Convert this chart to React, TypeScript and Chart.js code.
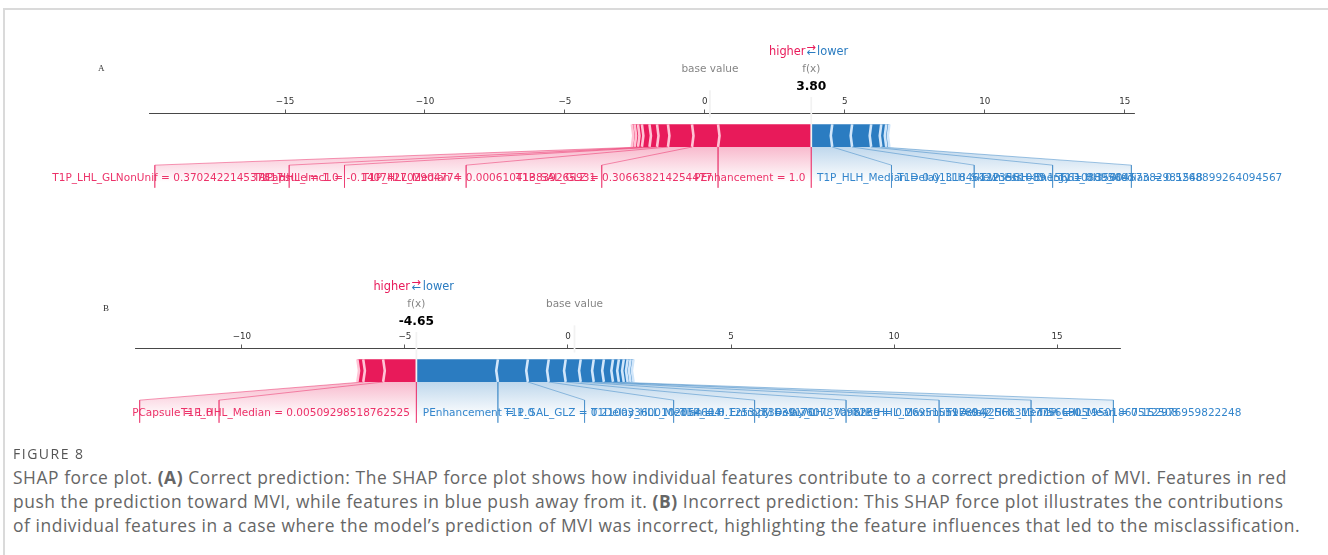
import React, { useEffect, useRef } from 'react';
import { Chart, registerables } from 'chart.js';

Chart.register(...registerables);

// ---------------- Panel A (correct prediction) ----------------
const baseValueA = 0.18;
const redEffectsA = [3.33, 0.93, 0.86, 0.39, 0.27, 0.27, 0.14, 0.12, 0.1];
const redLabelsA = [
  'PEnhancement = 1.0',
  'T1P_SAL_GLZ = 0.306638214254477',
  'T1P_HLL_Median = 0.000610413839265931',
  'T1P_HHL_Imc1 = -0.140742702904774',
  'PCapsule = 1.0',
  'T1P_LHL_GLNonUnif = 0.370242214537817',
];
const blueEffectsA = [0.75, 0.71, 0.68, 0.36, 0.18, 0.11];
const blueLabelsA = [
  'T1P_HLH_Median = 0.01318461223561089',
  'T1Delay_LLH_Skewness = 0.1566108895607',
  'T1P_HHH_Energy = 0.3560457382981548',
  'T1D_HHL_Median = 0.5268899264094567',
];
const axisRangeA = [-19.86, 15.33];
const tickValuesA = [-15, -10, -5, 0, 5, 10, 15];

// ---------------- Panel B (incorrect prediction) ----------------
const baseValueB = 0.2;
const redEffectsB = [1.02, 0.61, 0.18];
const redLabelsB = ['T1P_HHL_Median = 0.00509298518762525', 'PCapsule = 1.0'];
const blueEffectsB = [2.5, 0.92, 0.64, 0.52, 0.46, 0.4, 0.31, 0.28, 0.18, 0.15, 0.12, 0.09, 0.09];
const blueLabelsB = [
  'PEnhancement = 1.0',
  'T1P_SAL_GLZ = 0.210033600102054604',
  'T1Delay_HLL_Median = 0.1253283639170',
  'T1P_LLH_Entropy = -0.760787098259',
  'T1Delay_LHL_Variance = 0.2695155978942',
  'T1P_HHL_Maximum = 0.4256831377566905',
  'T1Delay_HHL_Median = 0.19501867512508',
  'T1P_LHL_Mean = 0.152976959822248',
];
const axisRangeB = [-13.28, 16.93];
const tickValuesB = [-10, -5, 0, 5, 10, 15];

// ---------------- styles ----------------
const RED_RGB = [232, 26, 90];
const BLUE_RGB = [43, 124, 193];
const RED = `rgb(${RED_RGB.join(',')})`;
const BLUE = `rgb(${BLUE_RGB.join(',')})`;
const RED_TEXT = 'rgb(236, 50, 105)';
const BLUE_TEXT = 'rgb(52, 134, 204)';
const RED_LIGHT = '#FFC3D5';
const BLUE_LIGHT = '#D1E6FA';
const FONT = '"DejaVu Sans", sans-serif';
const LABEL_PX = 10.5;
const BOX_PAD = 0.3 * LABEL_PX;
const PAGE_W = 1328;
const AXIS_PX = 985;
const X_SCALE_H = 30;
const Y_MIN = -0.25;
const Y_MAX = 0.15;
const PX_PER_Y = 226.7;
const BAR_H = 0.1;

const rgba = (c: number[], a: number) => `rgba(${c[0]},${c[1]},${c[2]},${a})`;
const sum = (a: number[]) => a.reduce((s, v) => s + v, 0);

type Pt = { x: number; y: number };
type LabelText = { x: number; text: string; align: CanvasTextAlign; color: string };

function layoutLabels(
  type: 'positive' | 'negative',
  cum: number[],
  labels: string[],
  out: number,
  offset: number,
  totalEffect: number,
  unitsPerPx: number,
  measure: (s: string) => number,
) {
  const sign = type === 'positive' ? 1 : -1;
  const color = type === 'positive' ? RED_TEXT : BLUE_TEXT;
  let startText = out;
  let preVal = out;
  let boxEnd = out;
  const texts: LabelText[] = [];
  const lines: Pt[][] = [];
  if (type === 'positive') lines.push([{ x: out, y: 0 }, { x: out, y: -0.18 }]);
  for (let i = 0; i < cum.length && i < labels.length; i++) {
    const val = cum[i];
    if (Math.abs(val - preVal) / Math.abs(totalEffect) < 0.05) break;
    const anchor = startText - sign * offset;
    const w = (measure(labels[i]) + BOX_PAD) * unitsPerPx;
    const boxEndRaw = type === 'positive' ? anchor - w : anchor + w;
    texts.push({ x: anchor, text: labels[i], align: type === 'positive' ? 'right' : 'left', color });
    if (sign * boxEndRaw > sign * val) {
      lines.push([{ x: val, y: 0 }, { x: val, y: -0.18 }]);
      startText = val;
      boxEnd = val;
    } else {
      boxEnd = boxEndRaw - sign * offset;
      lines.push([{ x: val, y: 0 }, { x: boxEnd, y: -0.08 }, { x: boxEnd, y: -0.18 }]);
      startText = boxEnd;
    }
    preVal = val;
  }
  const shade: Pt[] = [
    { x: out, y: 0 },
    { x: preVal, y: 0 },
    { x: boxEnd, y: -0.08 },
    { x: boxEnd, y: -0.2 },
    { x: out, y: -0.2 },
  ];
  return { texts, lines, shade, boxEnd };
}

function barPolygons(out: number, cum: number[], type: 'positive' | 'negative', ind: number) {
  const rects: Pt[][] = [];
  const seps: Pt[][] = [];
  let pre = out;
  const h = BAR_H;
  cum.forEach((c, i) => {
    let left: number, right: number, si: number, sp: number;
    if (type === 'positive') {
      left = c; right = pre; pre = c; si = Math.abs(ind); sp = left;
    } else {
      left = pre; right = c; pre = c; si = -Math.abs(ind); sp = right;
    }
    let p: number[][];
    if (i === 0) {
      p = type === 'positive'
        ? [[left, 0], [right, 0], [right, h], [left, h], [left + si, h / 2]]
        : [[right, 0], [left, 0], [left, h], [right, h], [right + si, h / 2]];
    } else {
      p = [[left, 0], [right, 0], [right + si * 0.9, h / 2], [right, h], [left, h], [left + si * 0.9, h / 2]];
    }
    rects.push(p.map(([x, y]) => ({ x, y })));
    seps.push([{ x: sp, y: 0 }, { x: sp + si, y: h / 2 }, { x: sp, y: h }]);
  });
  return { rects, seps };
}

function buildPanel(base: number, redE: number[], redL: string[], blueE: number[], blueL: string[], measure: (s: string) => number) {
  const out = base + sum(redE) - sum(blueE);
  const posCum: number[] = [];
  let v = out;
  redE.forEach((e) => { v -= e; posCum.push(v); });
  const negCum: number[] = [];
  v = out;
  blueE.forEach((e) => { v += e; negCum.push(v); });
  const totalPos = Math.max(...posCum) - Math.min(...posCum);
  const totalNeg = Math.max(...negCum) - Math.min(...negCum);
  const offset = (totalNeg + totalPos) * 0.04;
  const totalEffect = totalNeg + totalPos;
  const padding = Math.max(totalPos, totalNeg) * 0.2;
  let minX = Math.min(Math.min(...posCum), base) - padding;
  let maxX = Math.max(Math.max(...negCum), base) + padding;
  const sepW = (maxX - minX) / 200;
  const neg = layoutLabels('negative', negCum, blueL, out, offset, totalEffect, (maxX - minX) / AXIS_PX, measure);
  if (neg.boxEnd > maxX) maxX = neg.boxEnd;
  if (neg.boxEnd < minX) minX = neg.boxEnd;
  const pos = layoutLabels('positive', posCum, redL, out, offset, totalEffect, (maxX - minX) / AXIS_PX, measure);
  const redBars = barPolygons(out, posCum, 'positive', sepW);
  const blueBars = barPolygons(out, negCum, 'negative', sepW);
  return { base, out, offset, neg, pos, redBars, blueBars };
}

type Panel = ReturnType<typeof buildPanel>;

function gradientFill(c: number[]) {
  return (ctx: any) => {
    const chart = ctx.chart;
    const { chartArea, scales } = chart;
    if (!chartArea || !scales.y) return rgba(c, 0.3);
    const y0 = scales.y.getPixelForValue(0);
    const y1 = scales.y.getPixelForValue(-0.155);
    const g = chart.ctx.createLinearGradient(0, y0, 0, y1);
    g.addColorStop(0, rgba(c, 0.3));
    g.addColorStop(1, 'rgba(255,255,255,0.3)');
    return g;
  };
}

function polyDs(pts: Pt[], fillColor: any, order: number) {
  return {
    type: 'line' as const,
    data: pts,
    fill: 'shape',
    backgroundColor: fillColor,
    borderColor: 'rgba(0,0,0,0)',
    borderWidth: 0,
    pointRadius: 0,
    order,
  };
}

function lineDs(pts: Pt[], color: string, width: number, order: number) {
  return {
    type: 'line' as const,
    data: pts,
    fill: false,
    borderColor: color,
    borderWidth: width,
    pointRadius: 0,
    borderJoinStyle: 'miter' as const,
    clip: false as const,
    order,
  };
}

function buildDatasets(P: Panel) {
  const ds: any[] = [];
  ds.push(polyDs(P.neg.shade, gradientFill(BLUE_RGB), 10));
  ds.push(polyDs(P.pos.shade, gradientFill(RED_RGB), 10));
  P.redBars.rects.forEach((r) => ds.push(polyDs(r, RED, 8)));
  P.blueBars.rects.forEach((r) => ds.push(polyDs(r, BLUE, 8)));
  P.redBars.seps.forEach((s) => ds.push(lineDs(s, RED_LIGHT, 2.6, 6)));
  P.blueBars.seps.forEach((s) => ds.push(lineDs(s, BLUE_LIGHT, 2.6, 6)));
  P.neg.lines.forEach((l) => ds.push(lineDs(l, rgba(BLUE_RGB, 0.5), 0.9, 4)));
  P.pos.lines.forEach((l) => ds.push(lineDs(l, rgba(RED_RGB, 0.5), 0.9, 4)));
  ds.push(lineDs([{ x: P.base, y: 0.13 }, { x: P.base, y: 0.25 }], '#F2F2F2', 1.75, 3));
  ds.push(lineDs([{ x: P.out, y: 0 }, { x: P.out, y: 0.24 }], '#F2F2F2', 1.75, 3));
  return ds;
}

function boxedText(ctx: CanvasRenderingContext2D, text: string, x: number, y: number, size: number, weight: string, color: string) {
  ctx.font = `${weight} ${size}px ${FONT}`;
  const w = ctx.measureText(text).width;
  const pad = 0.3 * size;
  ctx.fillStyle = '#ffffff';
  ctx.fillRect(x - w / 2 - pad, y - 0.93 * size - pad, w + 2 * pad, 1.17 * size + 2 * pad);
  ctx.fillStyle = color;
  ctx.textAlign = 'center';
  ctx.fillText(text, x, y);
}

function overlayPlugin(P: Panel) {
  return {
    id: 'forceOverlay',
    afterDraw(chart: any) {
      const { ctx, scales } = chart;
      const px = (v: number) => scales.x.getPixelForValue(v);
      const py = (v: number) => scales.y.getPixelForValue(v);
      ctx.save();
      ctx.textBaseline = 'alphabetic';
      ctx.font = `${LABEL_PX}px ${FONT}`;
      [...P.neg.texts, ...P.pos.texts].forEach((t) => {
        ctx.fillStyle = t.color;
        ctx.textAlign = t.align;
        ctx.fillText(t.text, px(t.x), py(-0.15));
      });
      boxedText(ctx, P.out.toFixed(2), px(P.out), py(0.25), 12.25, 'bold', '#000');
      boxedText(ctx, 'f(x)', px(P.out), py(0.33), 10.5, 'normal', 'rgba(0,0,0,0.5)');
      boxedText(ctx, 'base value', px(P.base), py(0.33), 10.5, 'normal', 'rgba(0,0,0,0.5)');
      ctx.font = `11.4px ${FONT}`;
      ctx.fillStyle = RED;
      ctx.textAlign = 'right';
      ctx.fillText('higher', px(P.out - P.offset), py(0.405));
      ctx.fillStyle = BLUE;
      ctx.textAlign = 'left';
      ctx.fillText('lower', px(P.out + P.offset), py(0.405));
      ctx.textAlign = 'center';
      ctx.fillStyle = BLUE;
      ctx.fillText('\u2190', px(P.out), py(0.4));
      ctx.fillStyle = RED;
      ctx.fillText('\u2192', px(P.out), py(0.425));
      ctx.restore();
    },
  };
}

type Layout = { top: number; height: number; left: number; axisY: number };

function makeChart(canvas: HTMLCanvasElement, P: Panel, L: Layout, range: number[], ticks: number[]) {
  const yPx = (Y_MAX - Y_MIN) * PX_PER_Y;
  const padTop = L.axisY - L.top - X_SCALE_H;
  const padBottom = L.height - (L.axisY - L.top) - yPx;
  return new Chart(canvas, {
    type: 'line',
    data: { datasets: buildDatasets(P) },
    options: {
      responsive: false,
      animation: false,
      events: [],
      layout: { autoPadding: false, padding: { left: L.left, right: PAGE_W - L.left - AXIS_PX, top: padTop, bottom: padBottom } },
      plugins: { legend: { display: false }, tooltip: { enabled: false }, title: { display: false } },
      elements: { point: { radius: 0 }, line: { tension: 0 } },
      scales: {
        x: {
          type: 'linear',
          position: 'top',
          min: range[0],
          max: range[1],
          z: 1,
          afterBuildTicks: (s: any) => { s.ticks = ticks.map((value) => ({ value })); },
          afterFit: (s: any) => { s.height = X_SCALE_H; },
          ticks: {
            autoSkip: false,
            maxRotation: 0,
            padding: 3,
            color: '#333',
            font: { family: FONT, size: 8.75 },
            callback: (v: any) => (Number(v) < 0 ? '\u2212' + Math.abs(Number(v)) : String(v)),
          },
          grid: { drawOnChartArea: false, drawTicks: true, tickLength: 3.5, color: '#333', lineWidth: 0.8 },
          border: { display: true, color: '#333', width: 0.9 },
        },
        y: { type: 'linear', display: false, min: Y_MIN, max: Y_MAX },
      },
    } as any,
    plugins: [overlayPlugin(P)],
  });
}

const layoutA: Layout = { top: 30, height: 200, left: 149, axisY: 113 };
const layoutB: Layout = { top: 270, height: 180, left: 135, axisY: 348 };

export default function App() {
  const refA = useRef<HTMLCanvasElement>(null);
  const refB = useRef<HTMLCanvasElement>(null);

  useEffect(() => {
    const mc = document.createElement('canvas').getContext('2d')!;
    mc.font = `${LABEL_PX}px ${FONT}`;
    const measure = (s: string) => mc.measureText(s).width;
    const pA = buildPanel(baseValueA, redEffectsA, redLabelsA, blueEffectsA, blueLabelsA, measure);
    const pB = buildPanel(baseValueB, redEffectsB, redLabelsB, blueEffectsB, blueLabelsB, measure);
    const cA = makeChart(refA.current!, pA, layoutA, axisRangeA, tickValuesA);
    const cB = makeChart(refB.current!, pB, layoutB, axisRangeB, tickValuesB);
    return () => { cA.destroy(); cB.destroy(); };
  }, []);

  const capStyle: React.CSSProperties = {
    position: 'absolute', left: 13, whiteSpace: 'nowrap', fontFamily: '"Open Sans", sans-serif',
    fontSize: 17.4, letterSpacing: 0.56, color: '#666', lineHeight: '20px',
  };

  return (
    <div style={{ position: 'absolute', left: 0, top: 0, width: PAGE_W, height: 555, overflow: 'hidden', background: '#fff' }}>
      <div style={{ position: 'absolute', left: 3, top: 8, width: 1400, height: 600, borderTop: '2px solid #dadada', borderLeft: '2px solid #dadada' }} />
      <canvas ref={refA} width={PAGE_W} height={layoutA.height} style={{ position: 'absolute', left: 0, top: layoutA.top }} />
      <canvas ref={refB} width={PAGE_W} height={layoutB.height} style={{ position: 'absolute', left: 0, top: layoutB.top }} />
      <div style={{ position: 'absolute', left: 98, top: 63, fontFamily: '"Liberation Serif", serif', fontSize: 9, color: '#333' }}>A</div>
      <div style={{ position: 'absolute', left: 103, top: 303, fontFamily: '"Liberation Serif", serif', fontSize: 9, color: '#333' }}>B</div>
      <div style={{ ...capStyle, top: 444, fontSize: 14, letterSpacing: 1.5, color: '#555' }}>FIGURE 8</div>
      <div style={{ ...capStyle, top: 467 }}>
        SHAP force plot. <b>(A)</b> Correct prediction: The SHAP force plot shows how individual features contribute to a correct prediction of MVI. Features in red
      </div>
      <div style={{ ...capStyle, top: 491 }}>
        push the prediction toward MVI, while features in blue push away from it. <b>(B)</b> Incorrect prediction: This SHAP force plot illustrates the contributions
      </div>
      <div style={{ ...capStyle, top: 515 }}>
        of individual features in a case where the model’s prediction of MVI was incorrect, highlighting the feature influences that led to the misclassification.
      </div>
    </div>
  );
}
